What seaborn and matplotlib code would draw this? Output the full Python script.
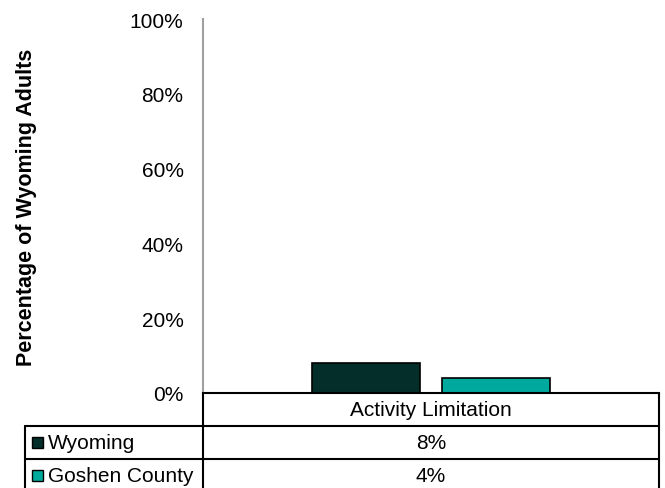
import pandas as pd
import numpy as np
import seaborn as sns
import matplotlib.pyplot as plt
from matplotlib.ticker import PercentFormatter
from matplotlib.patches import Rectangle

categories = ['Activity Limitation']
series = ['Wyoming', 'Goshen County']
values = [8, 4]
colors = ['#032e2a', '#00a99d']

df = pd.DataFrame({
    'measure': categories * len(series),
    'area': series,
    'pct': values,
})

sns.set_style('white')
plt.rcParams['font.family'] = ['Liberation Sans', 'DejaVu Sans']
plt.rcParams['text.color'] = 'black'
plt.rcParams['axes.labelcolor'] = 'black'

fig = plt.figure(figsize=(6.65, 4.89), dpi=100)
ax = fig.add_axes([203 / 665, 1 - 394 / 489, 456 / 665, 374 / 489])

sns.barplot(data=df, x='measure', y='pct', hue='area', hue_order=series,
            palette=colors, saturation=1, width=0.572, gap=0.17,
            edgecolor='black', linewidth=1.2, legend=False, ax=ax)

ax.set_xlim(-0.5, 0.5)
ax.set_ylim(0, 100)
ax.set_yticks(np.arange(0, 101, 20))
ax.yaxis.set_major_formatter(PercentFormatter(decimals=0))
ax.tick_params(axis='y', length=0, pad=14, labelsize=15, labelcolor='black')
ax.set_xticks([])
ax.set_xlabel('')
ax.set_ylabel('Percentage of Wyoming Adults', fontsize=15.5, fontweight='bold')
ax.yaxis.set_label_coords(-0.364, 0.5)

for s in ['top', 'right']:
    ax.spines[s].set_visible(False)
ax.spines['left'].set_color('#a0a0a0')
ax.spines['left'].set_linewidth(1.5)
ax.spines['bottom'].set_color('black')
ax.spines['bottom'].set_linewidth(1.5)

# data table below the plot
rh = 33 / 374
x_left = (25 - 203) / 456
lk = dict(transform=ax.transAxes, clip_on=False, color='black', lw=1.5)
ax.plot([0, 0], [0, -3.2 * rh], **lk)
ax.plot([1, 1], [0, -3.2 * rh], **lk)
ax.plot([x_left, x_left], [-rh, -3.2 * rh], **lk)
for i in range(1, 4):
    ax.plot([x_left, 1], [-i * rh, -i * rh], **lk)

ax.text(0.5, -0.5 * rh, categories[0], transform=ax.transAxes,
        ha='center', va='center', fontsize=15)
for i, (name, v, c) in enumerate(zip(series, values, colors)):
    yc = -(i + 1.5) * rh
    ax.text(0.5, yc, f'{v:.0f}%', transform=ax.transAxes,
            ha='center', va='center', fontsize=15)
    ax.text((48 - 203) / 456, yc, name, transform=ax.transAxes,
            ha='left', va='center', fontsize=15)
    sq = 11
    ax.add_patch(Rectangle(((32 - 203) / 456, yc - sq / 2 / 374), sq / 456, sq / 374,
                           transform=ax.transAxes, clip_on=False,
                           facecolor=c, edgecolor='black', lw=1))

fig.savefig('out.png', dpi=100)
